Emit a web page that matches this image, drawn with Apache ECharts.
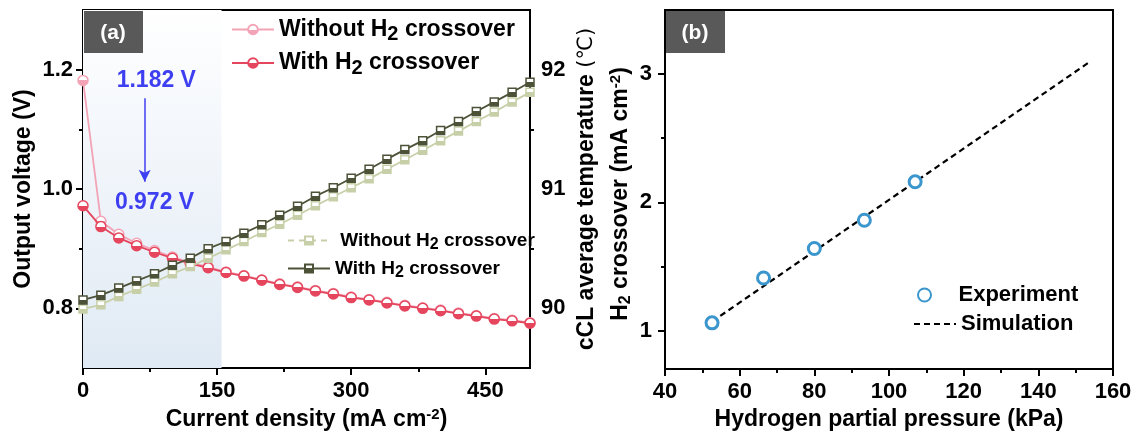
<!DOCTYPE html>
<html>
<head>
<meta charset="utf-8">
<script src="https://cdn.jsdelivr.net/npm/echarts@6/dist/echarts.min.js"></script>
<style>
html,body{margin:0;padding:0;background:#fff;}
#chart{width:1136px;height:436px;}
</style>
</head>
<body>
<div id="chart"></div>
<script>
// ---------- Data: panel (a) ----------
const currentDensity = [0, 20, 40, 60, 80, 100, 120, 140, 160, 180, 200, 220, 240, 260, 280, 300, 320, 340, 360, 380, 400, 420, 440, 460, 480, 500];
const voltageWithout = [1.182, 0.946, 0.924, 0.909, 0.897, 0.886, 0.877, 0.869, 0.861, 0.855, 0.848, 0.841, 0.836, 0.830, 0.825, 0.819, 0.815, 0.810, 0.805, 0.801, 0.797, 0.792, 0.788, 0.783, 0.780, 0.776];
const voltageWith = [0.972, 0.937, 0.918, 0.905, 0.894, 0.884, 0.875, 0.868, 0.860, 0.854, 0.847, 0.840, 0.835, 0.829, 0.824, 0.818, 0.814, 0.809, 0.804, 0.800, 0.796, 0.791, 0.787, 0.782, 0.779, 0.775];
const tempWithout = [89.995, 90.03, 90.10, 90.16, 90.22, 90.29, 90.35, 90.42, 90.49, 90.56, 90.635, 90.705, 90.78, 90.86, 90.935, 91.01, 91.085, 91.165, 91.245, 91.325, 91.405, 91.485, 91.565, 91.645, 91.73, 91.81];
const tempWith = [90.07, 90.11, 90.17, 90.23, 90.29, 90.36, 90.42, 90.50, 90.56, 90.63, 90.70, 90.78, 90.855, 90.94, 91.01, 91.09, 91.165, 91.25, 91.33, 91.405, 91.49, 91.565, 91.65, 91.73, 91.81, 91.895];

// tick values panel (a)
const xLabelsA = [0, 150, 300, 450];
const xMinorA = [75, 225, 375];
const yLabelsA = [0.8, 1.0, 1.2];
const yMinorA = [0.9, 1.1];
const y2LabelsA = [90, 91, 92];
const y2MinorA = [90.5, 91.5];

// annotations panel (a)
const ocvText = '1.182 V';
const ocvTextPos = [82, 1.182];
const ocvText2 = '0.972 V';
const ocvText2Pos = [80, 0.977];
const arrowFrom = [69, 1.152];
const arrowTo = [69, 1.012];
const shadedRange = [0, 155];

// ---------- Data: panel (b) ----------
const pressure = [52.6, 66.4, 80.0, 93.4, 107.0];
const crossoverExp = [1.06, 1.41, 1.64, 1.86, 2.16];
const simPressure = [52.6, 154];
const simCrossover = [1.07, 3.10];

const xLabelsB = [40, 60, 80, 100, 120, 140, 160];
const xMinorB = [50, 70, 90, 110, 130, 150];
const yLabelsB = [1, 2, 3];
const yMinorB = [1.5, 2.5];

// ---------- Styles ----------
const FONT = '"Liberation Sans", Arial, "DejaVu Sans", sans-serif';
const C_PINK = '#f3a3b6';
const C_RED = '#e5465e';
const C_LIGHT = '#c7cfa8';
const C_DARK = '#4c5238';
const C_BLUE = '#3f3ff2';
const C_EXP = '#3a96cc';

function zip(a, b) { return a.map((v, i) => [v, b[i]]); }
function halfFill(c) {
  return new echarts.graphic.LinearGradient(0, 0, 0, 1, [
    { offset: 0, color: '#ffffff' }, { offset: 0.5, color: '#ffffff' },
    { offset: 0.5, color: c }, { offset: 1, color: c }
  ]);
}

const chart = echarts.init(document.getElementById('chart'), null, { renderer: 'canvas' });

const tickLabel = { color: '#000', fontFamily: FONT, fontWeight: 'bold', fontSize: 22 };
const richDefs = {
  sup: { fontFamily: FONT, fontWeight: 'bold', fontSize: 15, padding: [0, 0, 10, 0] },
  sub: { fontFamily: FONT, fontWeight: 'bold', fontSize: 16, padding: [10, 0, 0, 0] },
  n: { fontFamily: '"DejaVu Sans", sans-serif', fontWeight: 'normal', fontSize: 21 }
};
const nameStyle = { color: '#000', fontFamily: FONT, fontWeight: 'bold', fontSize: 23, rich: richDefs };
const axisLine = { show: true, lineStyle: { color: '#000', width: 2 } };

function mainAxis(extra) {
  return Object.assign({
    type: 'value', splitLine: { show: false },
    axisLine: axisLine,
    axisTick: { show: true, inside: false, length: 7, lineStyle: { color: '#000', width: 2 } },
    axisLabel: Object.assign({}, tickLabel),
    nameTextStyle: nameStyle, nameLocation: 'middle'
  }, extra);
}
function minorAxis(extra, ticks) {
  return Object.assign({
    type: 'value', splitLine: { show: false },
    axisLine: { show: false },
    axisLabel: { show: false },
    axisTick: { show: true, length: 4, customValues: ticks, lineStyle: { color: '#000', width: 2 } }
  }, extra);
}

const legendNames = {
  voltWithout: 'Without H{s|2} crossover',
  voltWith: 'With H{s|2} crossover',
  tempWithout: ' Without H{s|2} crossover',
  tempWith: 'With H{s|2} crossover',
  exp: 'Experiment',
  sim: 'Simulation'
};
function legendText(size, padTop) {
  return {
    color: '#000', fontFamily: FONT, fontWeight: 'bold', fontSize: size,
    rich: { s: { fontFamily: FONT, fontWeight: 'bold', fontSize: size - 3, padding: [padTop, 0, 0, 0] } }
  };
}

const option = {
  animation: false,
  backgroundColor: '#fff',
  grid: [
    { left: 83, top: 10, width: 447, height: 358, show: true, borderColor: '#000', borderWidth: 2, backgroundColor: 'transparent' },
    { left: 665, top: 10, width: 448, height: 359, show: true, borderColor: '#000', borderWidth: 2, backgroundColor: 'transparent' }
  ],
  xAxis: [
    mainAxis({ gridIndex: 0, min: 0, max: 500, position: 'bottom',
      axisTick: { show: true, length: 7, customValues: xLabelsA, lineStyle: { color: '#000', width: 2 } },
      axisLabel: Object.assign({}, tickLabel, { customValues: xLabelsA, margin: 12 }),
      name: 'Current density (mA cm{sup|-2})', nameGap: 35 }),
    minorAxis({ gridIndex: 0, min: 0, max: 500, position: 'bottom' }, xMinorA),
    mainAxis({ gridIndex: 1, min: 40, max: 160, position: 'bottom',
      axisTick: { show: true, length: 7, customValues: xLabelsB, lineStyle: { color: '#000', width: 2 } },
      axisLabel: Object.assign({}, tickLabel, { customValues: xLabelsB, margin: 12 }),
      name: 'Hydrogen partial pressure (kPa)', nameGap: 39 }),
    minorAxis({ gridIndex: 1, min: 40, max: 160, position: 'bottom' }, xMinorB)
  ],
  yAxis: [
    mainAxis({ gridIndex: 0, min: 0.7, max: 1.3, position: 'left',
      axisTick: { show: true, length: 7, customValues: yLabelsA, lineStyle: { color: '#000', width: 2 } },
      axisLabel: Object.assign({}, tickLabel, { customValues: yLabelsA, margin: 10, formatter: v => Number(v).toFixed(1) }),
      name: 'Output voltage (V)', nameGap: 48, nameRotate: 90 }),
    mainAxis({ gridIndex: 0, min: 89.5, max: 92.5, position: 'right',
      axisTick: { show: true, length: 7, customValues: y2LabelsA, lineStyle: { color: '#000', width: 2 } },
      axisLabel: Object.assign({}, tickLabel, { customValues: y2LabelsA, margin: 11 }),
      name: 'cCL average temperature {n|(℃)}', nameGap: 45, nameRotate: 90 }),
    minorAxis({ gridIndex: 0, min: 0.7, max: 1.3, position: 'left' }, yMinorA),
    minorAxis({ gridIndex: 0, min: 89.5, max: 92.5, position: 'right' }, y2MinorA),
    mainAxis({ gridIndex: 1, min: 0.7, max: 3.5, position: 'left',
      axisTick: { show: true, length: 7, customValues: yLabelsB, lineStyle: { color: '#000', width: 2 } },
      axisLabel: Object.assign({}, tickLabel, { customValues: yLabelsB, margin: 13 }) }),
    minorAxis({ gridIndex: 1, min: 0.7, max: 3.5, position: 'left' }, yMinorB)
  ],
  legend: [
    { left: 226, top: 13, orient: 'vertical', itemWidth: 42, itemHeight: 12, itemGap: 7,
      data: ['voltWithout', 'voltWith'], formatter: n => legendNames[n], textStyle: legendText(23, 10) },
    { left: 282, top: 226, orient: 'vertical', itemWidth: 42, itemHeight: 10, itemGap: 6,
      data: [{ name: 'tempWithout', lineStyle: { type: [6, 5] } }, 'tempWith'],
      formatter: n => legendNames[n], textStyle: legendText(19, 9) },
    { left: 912, top: 279, orient: 'vertical', itemWidth: 14, itemHeight: 13,
      data: ['exp'], formatter: n => legendNames[n],
      textStyle: { color: '#000', fontFamily: FONT, fontWeight: 'bold', fontSize: 22, padding: [0, 0, 0, 22] } },
    { left: 908, top: 308, orient: 'vertical', itemWidth: 42, itemHeight: 12,
      data: [{ name: 'sim', lineStyle: { type: [6, 4] }, itemStyle: { opacity: 0 } }], formatter: n => legendNames[n],
      textStyle: { color: '#000', fontFamily: FONT, fontWeight: 'bold', fontSize: 22 } }
  ],
  series: [
    { name: 'voltWithout', type: 'line', xAxisIndex: 0, yAxisIndex: 0, z: 2,
      data: zip(currentDensity, voltageWithout),
      symbol: 'circle', symbolSize: 10,
      itemStyle: { color: halfFill(C_PINK), borderColor: C_PINK, borderWidth: 1.5 },
      lineStyle: { color: C_PINK, width: 1.8 },
      markArea: { silent: true, z: 1,
        data: [[{ xAxis: shadedRange[0], itemStyle: { opacity: 1, color: new echarts.graphic.LinearGradient(0, 0, 0, 1, [
          { offset: 0, color: '#ffffff' }, { offset: 0.3, color: '#f5f8fc' }, { offset: 1, color: '#e0eaf4' }]) } }, { xAxis: shadedRange[1] }]] }
    },
    { name: 'voltWith', type: 'line', xAxisIndex: 0, yAxisIndex: 0, z: 3,
      data: zip(currentDensity, voltageWith),
      symbol: 'circle', symbolSize: 10,
      itemStyle: { color: halfFill(C_RED), borderColor: C_RED, borderWidth: 1.5 },
      lineStyle: { color: C_RED, width: 1.8 },
      markLine: { silent: true, symbol: ['none', 'arrow'], symbolSize: [9, 12],
        lineStyle: { color: C_BLUE, width: 1.5, type: 'solid' }, label: { show: false },
        data: [[{ coord: arrowFrom }, { coord: arrowTo }]] },
      markPoint: { silent: true, symbol: 'circle', symbolSize: 1,
        itemStyle: { color: 'rgba(0,0,0,0)' },
        label: { show: true, position: 'inside', formatter: '{b}', color: C_BLUE, fontFamily: FONT, fontWeight: 'bold', fontSize: 23 },
        data: [{ name: ocvText, coord: ocvTextPos }, { name: ocvText2, coord: ocvText2Pos }] }
    },
    { name: 'tempWithout', type: 'line', xAxisIndex: 0, yAxisIndex: 1, z: 4,
      data: zip(currentDensity, tempWithout),
      symbol: 'rect', symbolSize: 8,
      itemStyle: { color: halfFill(C_LIGHT), borderColor: C_LIGHT, borderWidth: 1.5 },
      lineStyle: { color: C_LIGHT, width: 1.8 }
    },
    { name: 'tempWith', type: 'line', xAxisIndex: 0, yAxisIndex: 1, z: 5,
      data: zip(currentDensity, tempWith),
      symbol: 'rect', symbolSize: 8,
      itemStyle: { color: halfFill(C_DARK), borderColor: C_DARK, borderWidth: 1.5 },
      lineStyle: { color: C_DARK, width: 1.8 }
    },
    { name: 'sim', type: 'line', xAxisIndex: 2, yAxisIndex: 4, z: 2,
      data: zip(simPressure, simCrossover), symbol: 'none',
      itemStyle: { color: '#000' },
      lineStyle: { color: '#000', width: 2.2, type: [6, 4] }
    },
    { name: 'exp', type: 'scatter', xAxisIndex: 2, yAxisIndex: 4, z: 3,
      data: zip(pressure, crossoverExp),
      symbol: 'circle', symbolSize: 12,
      itemStyle: { color: '#ffffff', borderColor: C_EXP, borderWidth: 3, opacity: 1 }
    }
  ],
  graphic: [
    { type: 'rect', z: 100, shape: { x: 84, y: 11, width: 59, height: 42 }, style: { fill: '#595959' } },
    { type: 'text', z: 101, x: 113, y: 33, style: { text: '(a)', fill: '#fff', font: 'bold 21px ' + FONT, textAlign: 'center', textVerticalAlign: 'middle' } },
    { type: 'rect', z: 100, shape: { x: 666, y: 11, width: 59, height: 42 }, style: { fill: '#595959' } },
    { type: 'text', z: 101, x: 695, y: 33, style: { text: '(b)', fill: '#fff', font: 'bold 21px ' + FONT, textAlign: 'center', textVerticalAlign: 'middle' } },
    // y-axis title of panel (b)
    { type: 'text', z: 50, x: 621, y: 194, rotation: Math.PI / 2,
      style: { text: 'H{sub|2} crossover (mA cm{sup|-2})', fill: '#000', fontFamily: FONT, fontWeight: 'bold', fontSize: 23,
        rich: richDefs, align: 'center', verticalAlign: 'middle' } }
  ]
};
chart.setOption(option);
</script>
</body>
</html>
